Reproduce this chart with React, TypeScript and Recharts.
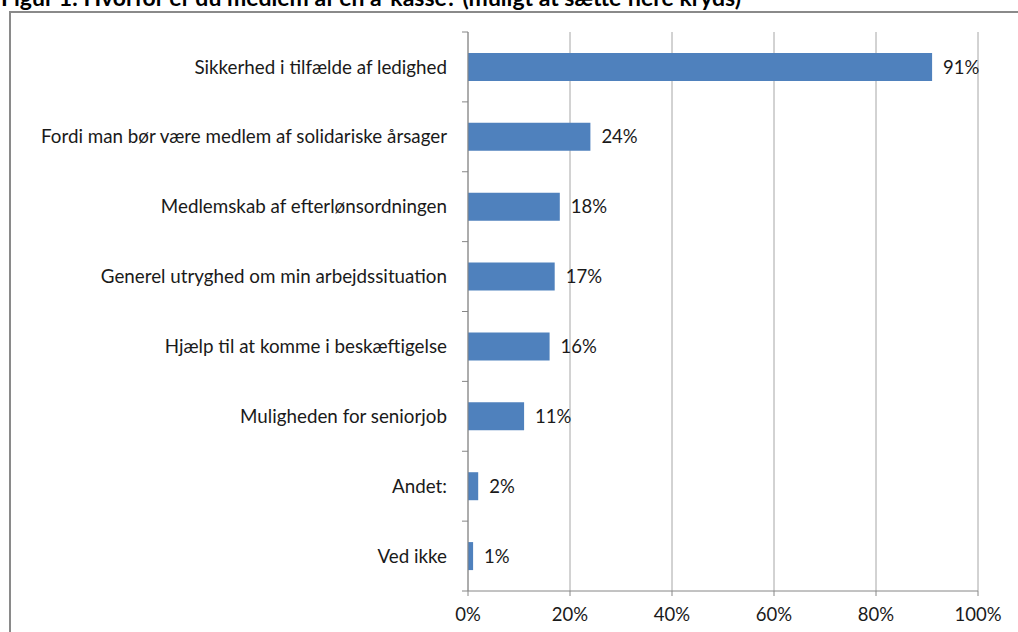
import React from 'react'
import {
  BarChart,
  Bar,
  XAxis,
  YAxis,
  CartesianGrid,
  LabelList,
} from 'recharts'

const categories = [
  'Sikkerhed i tilfælde af ledighed',
  'Fordi man bør være medlem af solidariske årsager',
  'Medlemskab af efterlønsordningen',
  'Generel utryghed om min arbejdssituation',
  'Hjælp til at komme i beskæftigelse',
  'Muligheden for seniorjob',
  'Andet:',
  'Ved ikke',
]
const shares = [91, 24, 18, 17, 16, 11, 2, 1]
const xTicks = [0, 20, 40, 60, 80, 100]

const title = 'Figur 1: Hvorfor er du medlem af en a-kasse? (muligt at sætte flere kryds)'

const data = categories.map((name, i) => ({ name, value: shares[i] }))

const W = 1018
const H = 632
const TOP = 32
const BOTTOM_AXIS = 41
const PLOT_H = H - TOP - BOTTOM_AXIS
const BAND = PLOT_H / categories.length
const FONT = 'Lato, "Open Sans", sans-serif'
const AXIS = '#868686'
const TEXT = '#1a1a1a'

function CategoryTick(props: any) {
  const { x, y, payload, index } = props
  const last = index === categories.length - 1
  return (
    <g>
      <line x1={x - 6} x2={x} y1={y - BAND / 2} y2={y - BAND / 2} stroke={AXIS} />
      {last && <line x1={x - 6} x2={x} y1={y + BAND / 2} y2={y + BAND / 2} stroke={AXIS} />}
      <text
        x={x - 21}
        y={y}
        dy="0.35em"
        textAnchor="end"
        fill={TEXT}
        fontSize={18.8}
        fontFamily={FONT}
      >
        {payload.value}
      </text>
    </g>
  )
}

export default function App() {
  return (
    <div style={{ position: 'absolute', left: 0, top: 0, width: W, height: H, overflow: 'hidden', background: '#fff' }}>
      <div
        style={{
          position: 'absolute',
          left: 1,
          top: -14,
          fontFamily: FONT,
          fontWeight: 700,
          fontSize: 23,
          lineHeight: '23px',
          whiteSpace: 'nowrap',
          color: '#000',
        }}
      >
        {title}
      </div>
      <div
        style={{
          position: 'absolute',
          left: 9,
          top: 11,
          width: 1100,
          height: 700,
          border: '2px solid #8a8a8a',
        }}
      />
      <div style={{ position: 'absolute', left: 0, top: 0 }}>
        <BarChart
          width={W}
          height={H}
          data={data}
          layout="vertical"
          margin={{ top: TOP, right: 40, bottom: 0, left: 0 }}
          barCategoryGap="30%"
        >
          <CartesianGrid horizontal={false} stroke="#a6a6a6" />
          <XAxis
            type="number"
            domain={[0, 100]}
            ticks={xTicks}
            tickFormatter={v => `${v}%`}
            height={BOTTOM_AXIS}
            axisLine={{ stroke: AXIS }}
            tickLine={{ stroke: AXIS }}
            tickSize={5}
            tick={{ fontSize: 18.5, fill: TEXT, fontFamily: FONT }}
            tickMargin={12}
          />
          <YAxis
            type="category"
            dataKey="name"
            width={468}
            axisLine={{ stroke: AXIS }}
            tickLine={false}
            tickSize={0}
            tickMargin={0}
            tick={<CategoryTick />}
            interval={0}
          />
          <Bar dataKey="value" fill="#4f81bd" isAnimationActive={false}>
            <LabelList
              dataKey="value"
              position="right"
              offset={11}
              formatter={(v: any) => `${v}%`}
              style={{ fontSize: 18.5, fill: TEXT, fontFamily: FONT }}
            />
          </Bar>
        </BarChart>
      </div>
    </div>
  )
}
